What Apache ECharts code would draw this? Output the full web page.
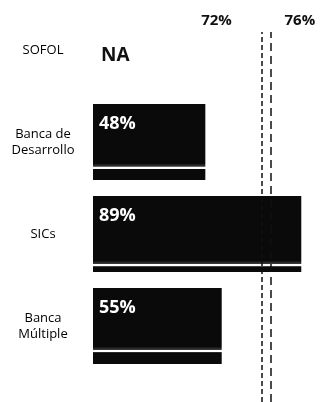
<!DOCTYPE html>
<html>
<head>
<meta charset="utf-8">
<script src="https://cdn.jsdelivr.net/npm/echarts@6/dist/echarts.min.js"></script>
<style>
  html, body { margin: 0; padding: 0; background: #fff; }
  #chart { width: 320px; height: 402px; }
</style>
</head>
<body>
<div id="chart"></div>
<script>
// categories and values
const categories = ['SOFOL', 'Banca de\nDesarrollo', 'SICs', 'Banca\nMúltiple'];
const values = [null, 48, 89, 55];
const refLines = [72, 76];
const refLabels = ['72%', '76%'];

const font = '"Open Sans", "Noto Sans", sans-serif';

// black bar with the thin white scan line near the bottom
function barFill(stop) {
  return {
    type: 'linear', x: 0, y: 0, x2: 0, y2: 1,
    colorStops: [
      { offset: 0, color: '#0a0a0a' },
      { offset: stop - 0.06, color: '#0a0a0a' },
      { offset: stop - 0.02, color: '#3a3a3a' },
      { offset: stop - 0.01, color: '#ffffff' },
      { offset: stop + 0.01, color: '#ffffff' },
      { offset: stop + 0.02, color: '#0a0a0a' },
      { offset: 1, color: '#0a0a0a' }
    ]
  };
}
const stripeAt = [0.84, 0.84, 0.91, 0.83];

const barData = values.map((v, i) => {
  if (v === null) {
    return {
      value: 0,
      label: {
        show: true, position: 'right', distance: 7,
        formatter: 'NA', color: '#111', fontSize: 19, fontWeight: 'bold',
        fontFamily: font
      }
    };
  }
  return { value: v, itemStyle: { color: barFill(stripeAt[i]) } };
});

const chart = echarts.init(document.getElementById('chart'), null, { renderer: 'canvas' });

chart.setOption({
  animation: false,
  backgroundColor: '#fff',
  grid: [
    { left: 93, right: 0, top: 4, bottom: 30 },
    { left: 93, right: 0, top: 32, bottom: 0 }
  ],
  xAxis: [
    { type: 'value', gridIndex: 0, min: 0, max: 97, show: false },
    { type: 'value', gridIndex: 1, min: 0, max: 97, show: false }
  ],
  yAxis: [
    {
      type: 'category', gridIndex: 0, inverse: true, data: categories,
      axisLine: { show: false }, axisTick: { show: false },
      axisLabel: {
        color: '#000', fontSize: 13, fontFamily: font,
        align: 'center', margin: 50, lineHeight: 16
      }
    },
    { type: 'value', gridIndex: 1, min: 0, max: 1, show: false }
  ],
  series: [
    {
      type: 'bar',
      xAxisIndex: 0, yAxisIndex: 0,
      data: barData,
      barWidth: 76,
      label: {
        show: true, position: 'insideTopLeft', offset: [1, 6],
        formatter: p => p.value + '%',
        color: '#fff', fontSize: 18, fontWeight: 'bold', fontFamily: font
      }
    },
    {
      type: 'line',
      xAxisIndex: 1, yAxisIndex: 1,
      data: [],
      markLine: {
        silent: true,
        symbol: 'none',
        data: [
          {
            xAxis: refLines[0],
            lineStyle: { type: [5, 3], width: 1.5, color: '#111' },
            label: { formatter: refLabels[0], offset: [-45, 0] }
          },
          {
            xAxis: refLines[1],
            lineStyle: { type: [8, 5], width: 1.5, color: '#111' },
            label: { formatter: refLabels[1], offset: [29, 0] }
          }
        ],
        label: {
          show: true, position: 'end', distance: 4,
          color: '#111', fontSize: 15, fontWeight: 'bold', fontFamily: font
        }
      }
    }
  ]
});
</script>
</body>
</html>
